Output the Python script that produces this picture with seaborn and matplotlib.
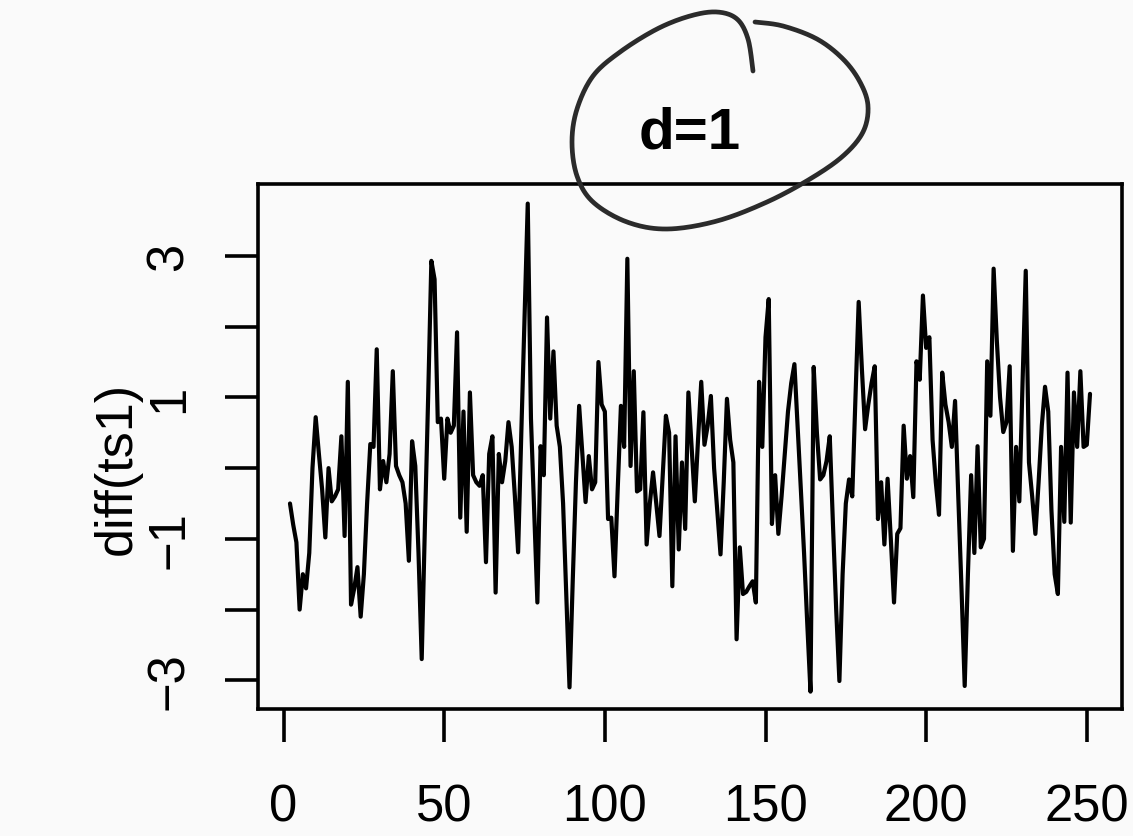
import numpy as np
import pandas as pd
import matplotlib
matplotlib.use("Agg")
import matplotlib.pyplot as plt
from matplotlib.lines import Line2D
import seaborn as sns

# first differences of ts1 (t = 2..251)
diff_ts1 = [
    -0.5, -0.8, -1.05, -2.0, -1.5, -1.7, -1.2, 0.0, 0.72, 0.2,
    -0.3, -0.98, 0.0, -0.47, -0.4, -0.3, 0.45, -0.96, 1.22, -1.93,
    -1.7, -1.4, -2.1, -1.5, -0.5, 0.34, 0.3, 1.68, -0.3, 0.1,
    -0.2, 0.2, 1.37, 0.03, -0.1, -0.2, -0.5, -1.31, 0.38, 0.03,
    -1.2, -2.7, -0.8, 1.0, 2.93, 2.67, 0.65, 0.7, -0.15, 0.7,
    0.5, 0.6, 1.92, -0.7, 0.8, -0.9, 1.07, -0.1, -0.2, -0.25,
    -0.1, -1.33, 0.2, 0.45, -1.76, 0.2, -0.2, 0.1, 0.65, 0.3,
    -0.4, -1.19, 0.5, 2.1, 3.74, 0.7, -0.6, -1.9, 0.31, -0.1,
    2.13, 0.7, 1.65, 0.6, 0.3, -0.5, -1.8, -3.1, -1.6, -0.2,
    0.88, 0.2, -0.48, 0.17, -0.3, -0.2, 1.5, 0.9, 0.8, -0.72,
    -0.7, -1.53, -0.3, 0.88, 0.3, 2.96, 0.03, 1.37, -0.33, -0.3,
    0.79, -1.08, -0.5, -0.06, -0.5, -0.96, -0.1, 0.74, 0.5, -1.67,
    0.45, -1.15, 0.08, -0.86, 1.07, 0.3, -0.47, 0.4, 1.22, 0.33,
    0.6, 1.02, 0.0, -0.6, -1.22, -0.2, 0.98, 0.4, 0.08, -2.42,
    -1.12, -1.78, -1.75, -1.67, -1.6, -1.9, 1.22, 0.3, 1.85, 2.39,
    -0.79, -0.1, -0.93, -0.4, 0.2, 0.8, 1.2, 1.47, 0.6, -0.3,
    -1.2, -2.2, -3.16, 1.43, 0.5, -0.16, -0.1, 0.1, 0.45, -0.8,
    -2.0, -3.01, -1.5, -0.5, -0.16, -0.4, 1.0, 2.35, 1.4, 0.55,
    0.9, 1.2, 1.44, -0.72, -0.2, -1.08, -0.15, -1.0, -1.9, -0.93,
    -0.85, 0.6, -0.15, 0.17, -0.41, 1.51, 1.25, 2.44, 1.7, 1.85,
    0.4, -0.2, -0.66, 1.35, 0.9, 0.65, 0.3, 0.95, -0.4, -1.7,
    -3.08, -1.5, -0.1, -1.2, 0.31, -1.12, -1.0, 1.51, 0.74, 2.82,
    1.8, 1.0, 0.51, 0.65, 1.44, -1.17, 0.3, -0.47, 1.2, 2.79,
    0.08, -0.4, -0.93, -0.2, 0.6, 1.15, 0.8, -0.6, -1.5, -1.78,
    0.3, -0.76, 1.35, -0.77, 1.07, 0.3, 1.37, 0.3, 0.33, 1.05,
]
time_idx = list(range(2, 2 + len(diff_ts1)))

x_ticks = [0, 50, 100, 150, 200, 250]
y_ticks = [-3, -2, -1, 0, 1, 2, 3]
y_ticklabels = ["\u22123", "", "\u22121", "", "1", "", "3"]

df = pd.DataFrame({"t": time_idx, "diff_ts1": diff_ts1})

sns.set_style("white")
plt.rcParams["font.family"] = ["Liberation Sans", "DejaVu Sans"]
bg = "#fafafa"

fig = plt.figure(figsize=(11.33, 8.37), dpi=100, facecolor=bg)
ax = fig.add_axes([0.2277, 0.1517, 0.7626, 0.6272])
ax.set_facecolor(bg)

sns.lineplot(data=df, x="t", y="diff_ts1", ax=ax, color="black", linewidth=3.0)
ax.margins(x=0.04, y=0.04)
lo, hi = ax.get_ylim()
ax.set_ylim(lo + 0.03, hi)

for s in ax.spines.values():
    s.set_visible(True)
    s.set_color("black")
    s.set_linewidth(2.6)

ax.set_xticks(x_ticks)
ax.set_xticklabels([str(v) for v in x_ticks])
ax.set_yticks(y_ticks)
ax.set_yticklabels(y_ticklabels)
ax.tick_params(axis="both", which="major", bottom=True, left=True,
               direction="out", length=24, width=2.6,
               labelsize=36.5, colors="black")
ax.tick_params(axis="x", pad=29)
ax.tick_params(axis="y", pad=22)
for lab in ax.get_yticklabels():
    lab.set_rotation(90)
    lab.set_va("center")

ax.set_xlabel("")
ax.set_ylabel("diff(ts1)", fontsize=37.5, color="black")
ax.yaxis.set_label_coords(-0.134, 0.46)

ax.set_title("d=1", fontsize=42, fontweight="bold", pad=26, color="black")

# hand drawn circle around the title (figure pixel coords)
circle_px = [(755, 23), (783, 27), (817, 40), (843, 60), (860, 83), (868, 107),
             (863, 133), (843, 157), (810, 180), (767, 203), (717, 222),
             (667, 230), (627, 223), (593, 203), (577, 177), (572, 143),
             (577, 110), (593, 77), (620, 53), (657, 30), (690, 17),
             (717, 13), (737, 20), (748, 40), (753, 72)]


def catmull(pts, n=20):
    p = np.array(pts, dtype=float)
    p = np.vstack([p[0], p, p[-1]])
    out = []
    for i in range(1, len(p) - 2):
        p0, p1, p2, p3 = p[i - 1], p[i], p[i + 1], p[i + 2]
        for t in np.linspace(0, 1, n, endpoint=False):
            t2, t3 = t * t, t * t * t
            out.append(0.5 * (2 * p1 + (-p0 + p2) * t
                              + (2 * p0 - 5 * p1 + 4 * p2 - p3) * t2
                              + (-p0 + 3 * p1 - 3 * p2 + p3) * t3))
    out.append(p[-2])
    return np.array(out)


curve = catmull(circle_px)
W, H = 1133, 837
fig.add_artist(Line2D(curve[:, 0] / W, 1 - curve[:, 1] / H,
                      transform=fig.transFigure, color="#2b2b2b",
                      linewidth=3.4, solid_capstyle="round"))

fig.savefig("out.png", dpi=100, facecolor=bg)
